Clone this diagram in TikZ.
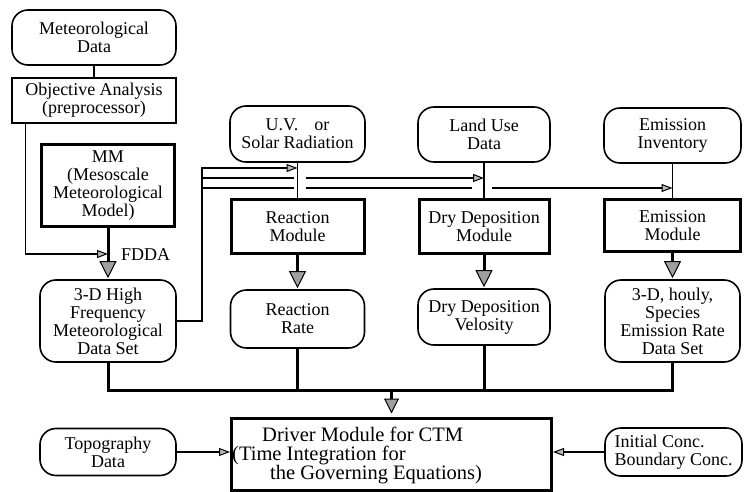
\documentclass[tikz,border=0pt]{standalone}
\usepackage{fontspec}
\setmainfont{Liberation Serif}
\usetikzlibrary{arrows.meta,calc}
\begin{document}
\begin{tikzpicture}[x=1pt,y=-1pt,
  every node/.style={font=\fontsize{18}{18}\selectfont, align=center, inner sep=1pt},
  rbox/.style={draw, line width=1.6pt, rounded corners=16pt},
  tbox/.style={draw, line width=1.3pt},
  kbox/.style={draw, line width=3pt},
  conn/.style={line width=1.6pt},
  busline/.style={line width=3pt},
  sarr/.style={conn, -{Triangle[length=11pt,width=8pt,fill=gray!55,line width=1pt]}},
  barr/.style={line width=3pt, shorten >=1pt, -{Triangle[length=17pt,width=17pt,fill=gray!75,line width=1pt]}},
]
\useasboundingbox[fill=white] (0,0) rectangle (747,492);

% left column
\node[rbox, minimum width=164pt, minimum height=55pt] (met) at (94,37.5) {Meteorological\\Data};
\node[tbox, minimum width=164pt, minimum height=45pt] (oa) at (94,100.5) {Objective Analysis\\(preprocessor)};
\node[kbox, minimum width=133pt, minimum height=82pt] (mm) at (108,185.5) {MM\\(Mesoscale\\Meteorological\\Model)};
\node[rbox, minimum width=136pt, minimum height=82pt] (hf) at (108,321) {3-D High\\Frequency\\Meteorological\\Data Set};

% top row
\node[rbox, minimum width=135pt, minimum height=56pt] (uv) at (297.5,134) {U.V.\hspace{0.9em}or\\Solar Radiation};
\node[rbox, minimum width=132pt, minimum height=55pt] (land) at (484,134.5) {Land Use\\Data};
\node[rbox, minimum width=137pt, minimum height=55pt] (einv) at (672.5,135.5) {Emission\\Inventory};

% modules
\node[kbox, minimum width=133pt, minimum height=54pt] (rmod) at (297.5,226.5) {Reaction\\Module};
\node[kbox, minimum width=130pt, minimum height=54pt] (dmod) at (484,226.5) {Dry Deposition\\Module};
\node[kbox, minimum width=136pt, minimum height=52pt] (emod) at (672.5,225.5) {Emission\\Module};

% results
\node[rbox, minimum width=134pt, minimum height=58pt] (rrate) at (297.5,319) {Reaction\\Rate};
\node[rbox, minimum width=132pt, minimum height=56pt] (dvel) at (484,317) {Dry Deposition\\Velosity};
\node[rbox, minimum width=135pt, minimum height=82pt] (edata) at (672.5,321) {3-D, houly,\\Species\\Emission Rate\\Data Set};

% bottom row
\node[rbox, minimum width=136pt, minimum height=47pt] (topo) at (108,452) {Topography\\Data};
\node[rbox, minimum width=137pt, minimum height=48pt, align=left] (init) at (673.5,452) {Initial Conc.\\Boundary Conc.};
\node[kbox, minimum width=320pt, minimum height=72pt] (driver) at (391.5,454) {};
\node[anchor=north west, align=left, inner sep=0pt, font=\fontsize{20.5}{19}\selectfont] (drivertext) at (232,427)
  {\hspace*{30pt}Driver Module for CTM\\(Time Integration for\\\hspace*{38pt}the Governing Equations)};

% FDDA label
\node[anchor=west] (fdda) at (120,255) {FDDA};

% connectors
\draw[conn] (met) -- (oa);
\coordinate (fd) at (108,254);
\draw[sarr] ([xshift=14pt]oa.south west) |- (fd);
\draw[barr] (mm) -- (hf);

\coordinate (j1) at (202,168);
\coordinate (j2) at (202,178);
\coordinate (j3) at (202,188);
\draw[sarr] (hf.east) -| (j1) -- (uv.south |- j1);
\draw[conn] (j2) -- ($(uv.south |- j2)+(-4,0)$);
\draw[sarr] ($(uv.south |- j2)+(8,0)$) -- (land.south |- j2);
\draw[conn] (j3) -- ($(uv.south |- j3)+(-4,0)$);
\draw[conn] ($(uv.south |- j3)+(8,0)$) -- ($(land.south |- j3)+(-12,0)$);
\draw[sarr] ($(land.south |- j3)+(8,0)$) -- (einv.south |- j3);

\draw[conn] (uv) -- (rmod);
\draw[conn] (land) -- (dmod);
\draw[conn] (einv) -- (emod);

\draw[barr] (rmod) -- (rrate);
\draw[barr] (dmod) -- (dvel);
\draw[barr] (emod) -- (edata);

\coordinate (bus) at (0,390);
\draw[busline] (hf.south) -- (hf.south |- bus) -- (edata.south |- bus) -- (edata.south);
\draw[busline] (rrate.south) -- (rrate.south |- bus);
\draw[busline] (dvel.south) -- (dvel.south |- bus);
\draw[barr, shorten >=3pt, -{Triangle[length=15pt,width=15pt,fill=gray!75,line width=1pt]}] (driver.north |- bus) -- (driver.north);

\draw[sarr] (topo) -- (driver.west |- topo);
\draw[sarr] (init) -- (driver.east |- init);
\end{tikzpicture}
\end{document}
